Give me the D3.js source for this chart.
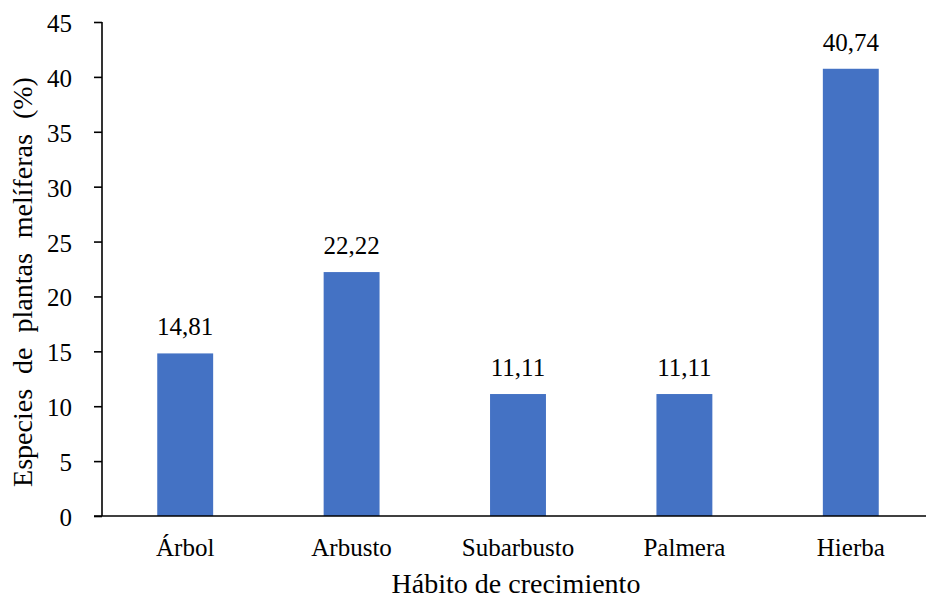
<!DOCTYPE html>
<html>
<head>
<meta charset="utf-8">
<script src="https://cdn.jsdelivr.net/npm/d3@7"></script>
</head>
<body style="margin:0;background:#fff">
<script>
// Growth habit categories and share of melliferous species (%)
const categories = ["Árbol", "Arbusto", "Subarbusto", "Palmera", "Hierba"];
const percentages = [14.81, 22.22, 11.11, 11.11, 40.74];
const yTicks = [0, 5, 10, 15, 20, 25, 30, 35, 40, 45];
const xTitle = "Hábito de crecimiento";
const yTitle = "Especies de plantas melíferas (%)";

const serif = "Liberation Serif";
const svg = d3.select("body").append("svg")
  .attr("width", 926)
  .attr("height", 598)
  .attr("font-family", serif)
  .style("font-family", `"${serif}"`);
const margin = { left: 102, top: 22, bottom: 516 };

const x = d3.scaleBand()
  .domain(categories)
  .range([margin.left, 934])
  .paddingInner(0.664)
  .paddingOuter(0.332);

const y = d3.scaleLinear()
  .domain([0, 45])
  .range([margin.bottom, margin.top]);

const fmt = v => v.toFixed(2).replace(".", ",");
const rows = categories.map((c, i) => ({ c, v: percentages[i] }));

function serifText(sel, size) {
  sel.attr("font-family", serif)
    .style("font-family", `"${serif}"`)
    .style("font-size", size + "px")
    .attr("fill", "#000");
}

// Bars
svg.append("g").selectAll("rect")
  .data(rows)
  .join("rect")
  .attr("x", d => x(d.c))
  .attr("y", d => y(d.v))
  .attr("width", x.bandwidth())
  .attr("height", d => y(0) - y(d.v))
  .attr("fill", "#4472C4");

// Value labels
svg.append("g").selectAll("text")
  .data(rows)
  .join("text")
  .attr("x", d => x(d.c) + x.bandwidth() / 2)
  .attr("y", d => y(d.v) - 18)
  .attr("text-anchor", "middle")
  .call(serifText, 25)
  .text(d => fmt(d.v));

// Y axis
const yAxis = svg.append("g")
  .attr("transform", `translate(${margin.left},0)`)
  .call(d3.axisLeft(y).tickValues(yTicks).tickSize(8).tickPadding(22).tickFormat(d3.format("d")));
yAxis.attr("font-family", serif).attr("font-size", 25);
yAxis.selectAll("line, path").attr("stroke", "#000").attr("stroke-width", 1.6);
yAxis.select(".domain").attr("d", `M0,${margin.top}V${margin.bottom}`);
yAxis.selectAll("text").call(serifText, 25).attr("dy", "0.38em");

// X axis
const xAxis = svg.append("g")
  .attr("transform", `translate(0,${margin.bottom})`)
  .call(d3.axisBottom(x).tickSize(0).tickPadding(22));
xAxis.attr("font-family", serif).attr("font-size", 25);
xAxis.select(".domain").attr("stroke", "#000").attr("stroke-width", 1.6)
  .attr("d", `M${margin.left - 8},0H926`);
xAxis.selectAll("text").call(serifText, 25);

// Axis titles
svg.append("text")
  .attr("x", 516)
  .attr("y", 593)
  .attr("text-anchor", "middle")
  .call(serifText, 28)
  .text(xTitle);

svg.append("text")
  .attr("transform", "translate(32,282) rotate(-90)")
  .attr("text-anchor", "middle")
  .style("word-spacing", "8px")
  .call(serifText, 28)
  .text(yTitle);
</script>
</body>
</html>
